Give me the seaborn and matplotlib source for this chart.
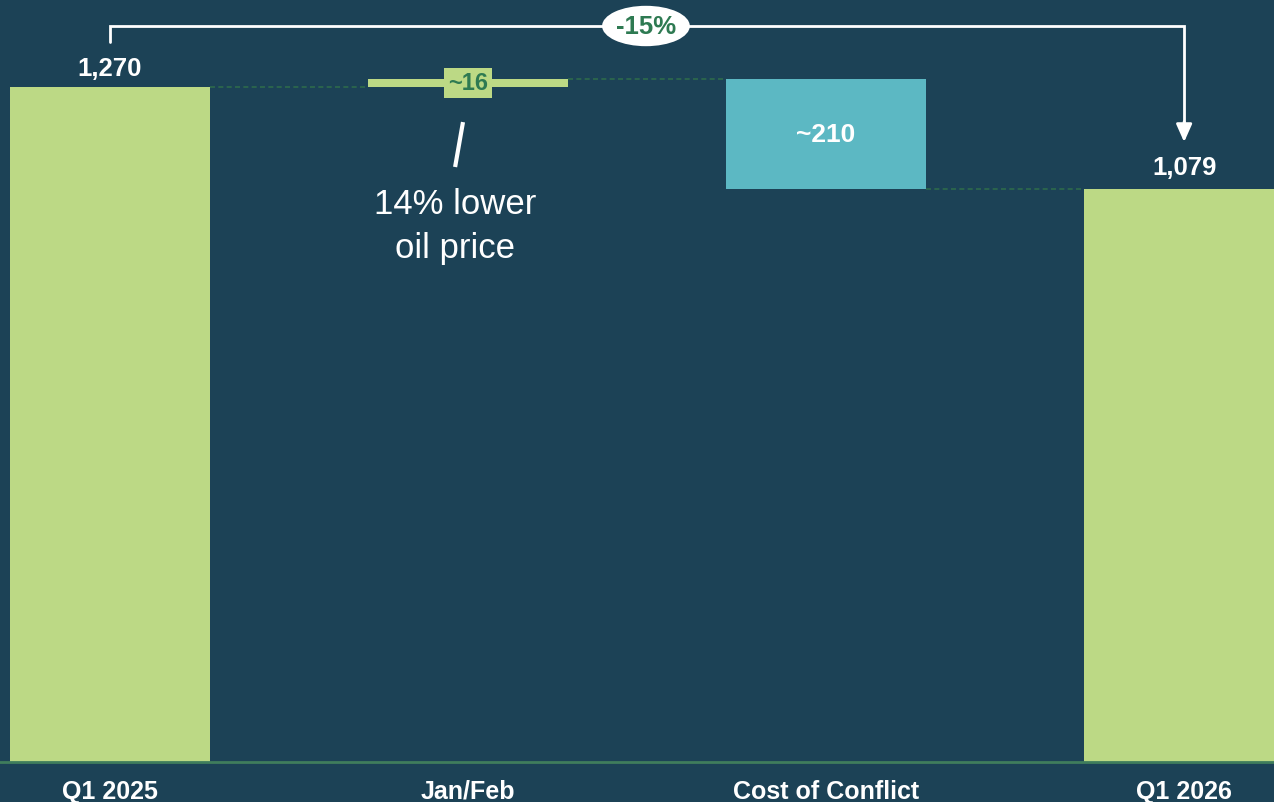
import matplotlib
matplotlib.use("Agg")
import matplotlib.pyplot as plt
from matplotlib.patches import Ellipse
import seaborn as sns
import pandas as pd

# ---- data ----
categories = ["Q1 2025", "Jan/Feb", "Cost of Conflict", "Q1 2026"]
start_total = 1270
jan_feb_delta = 16
end_total = 1079
conflict_delta = end_total - start_total - jan_feb_delta  # ~ -207 (shown as ~210)
value_labels = ["1,270", "~16", "~210", "1,079"]
change_label = "-15%"
note_text = "14% lower\noil price"

BG = "#1c4256"
GREEN = "#bcd985"
TEAL = "#5cb8c3"
DKGREEN = "#2e7a52"
CONN = "#2d6a4c"

sns.set_theme(style="white")
plt.rcParams["font.family"] = ["Liberation Sans", "DejaVu Sans"]

fig = plt.figure(figsize=(12.74, 8.03), dpi=100)
fig.patch.set_facecolor(BG)
ax = fig.add_axes([0, 40 / 803, 1, 763 / 803])
ax.set_facecolor(BG)

totals = pd.DataFrame({"cat": [categories[0], categories[3]],
                       "val": [start_total, end_total]})
sns.barplot(data=totals, x="cat", y="val", order=categories, color=GREEN,
            width=0.559, saturation=1, ax=ax, linewidth=0)

# floating bars
top1 = start_total + jan_feb_delta
ax.bar(1, jan_feb_delta, bottom=start_total, width=0.559, color=GREEN, linewidth=0)
ax.bar(2, -conflict_delta, bottom=top1 + conflict_delta, width=0.559, color=TEAL, linewidth=0)

ax.set_xlim(-0.307, 3.251)
ax.set_ylim(0, 1435.6)
hw = 0.559 / 2

# connectors
for x0, x1, y in [(0 + hw, 1 - hw, start_total), (1 + hw, 2 - hw, top1),
                  (2 + hw, 3 - hw, end_total)]:
    ax.plot([x0, x1], [y, y], color=CONN, lw=1.2, ls=(0, (3, 2)), zorder=1)

# value labels
ax.text(0, start_total + 36, value_labels[0], color="white", fontsize=18.5,
        fontweight="bold", ha="center", va="center")
ax.text(3, end_total + 40, value_labels[3], color="white", fontsize=18.5,
        fontweight="bold", ha="center", va="center")
ax.text(2, (top1 + end_total) / 2, value_labels[2], color="white", fontsize=19,
        fontweight="bold", ha="center", va="center")
ax.text(1, start_total + jan_feb_delta / 2, value_labels[1], color=DKGREEN, fontsize=17,
        fontweight="bold", ha="center", va="center",
        bbox=dict(boxstyle="square,pad=0.15", fc=GREEN, ec="none"))

# annotation slash + note
ax.plot([0.986, 0.964], [1204, 1119.5], color="white", lw=3, solid_capstyle="butt")
ax.text(0.964, 1010, note_text, color="white", fontsize=25, ha="center",
        va="center", linespacing=1.42)

# bracket
yb = 1384.8
ax.plot([0, 0, 3, 3], [1354.7, yb, yb, 1200], color="white", lw=2, zorder=3,
        solid_joinstyle="miter")
ax.annotate("", xy=(3, 1166.5), xytext=(3, 1205),
            arrowprops=dict(arrowstyle="-|>,head_length=0.9,head_width=0.4",
                            color="white", lw=2, shrinkA=0, shrinkB=0))
ax.add_patch(Ellipse((1.497, yb), 0.245, 76, fc="white", ec="none", zorder=4))
ax.text(1.497, yb, change_label, color=DKGREEN, fontsize=18.5, fontweight="bold",
        ha="center", va="center", zorder=5)

# axes styling
for s in ["top", "right", "left"]:
    ax.spines[s].set_visible(False)
ax.spines["bottom"].set_color("#3f7d5c")
ax.spines["bottom"].set_linewidth(2)
ax.set_yticks([])
ax.set_xlabel("")
ax.set_ylabel("")
ax.set_xticks(range(len(categories)))
ax.set_xticklabels(categories, color="white", fontsize=18, fontweight="bold")
ax.tick_params(axis="x", length=0, pad=12)

fig.savefig("out.png", dpi=100, facecolor=BG)
